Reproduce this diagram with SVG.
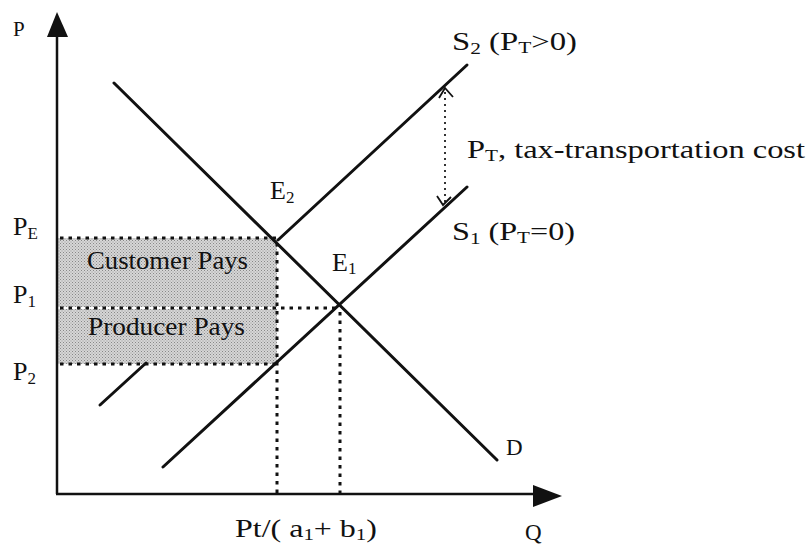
<svg xmlns="http://www.w3.org/2000/svg" width="808" height="548" viewBox="0 0 808 548">
<style>
text{font-family:"Liberation Serif","Times New Roman",serif;fill:#111}
.lbl{font-size:26px}
.sub{font-size:17px}
.curve{stroke:#111;stroke-width:3;fill:none;stroke-linecap:round}
.axis{stroke:#111;stroke-width:2.5;fill:none}
.dash{stroke:#111;stroke-width:3;fill:none;stroke-dasharray:3.5 5}
.dot{stroke:#333;stroke-width:2;fill:none;stroke-dasharray:2 4}
.head{stroke:#111;stroke-width:1.8;fill:none}
</style>
<defs>
<pattern id="stip" width="3" height="3" patternUnits="userSpaceOnUse">
<rect width="3" height="3" fill="#d6d6d6"/>
<rect x="0" y="0" width="1" height="1" fill="#888"/>
<rect x="1.5" y="1.5" width="1" height="1" fill="#999"/>
</pattern>
</defs>
<rect width="808" height="548" fill="#fff"/>

<g id="shaded-area">
<rect x="57" y="238" width="220" height="126" fill="url(#stip)"/>
<line x1="58" y1="308" x2="277" y2="308" stroke="#fff" stroke-width="2"/>
</g>

<g id="connectors">
<g id="axes">
<line class="axis" x1="57" y1="494" x2="57" y2="30"/>
<polygon points="57,12 47,37 68,37" fill="#111"/>
<line class="axis" x1="56" y1="494" x2="540" y2="494"/>
<polygon points="562,496 533,485 533,507" fill="#111"/>
</g>
<g id="curve-D"><line class="curve" x1="114" y1="83" x2="497" y2="460"/></g>
<g id="curve-S2">
<line class="curve" x1="278" y1="240" x2="467" y2="65"/>
<line class="curve" x1="100" y1="405" x2="146" y2="363"/>
</g>
<g id="curve-S1"><line class="curve" x1="163" y1="467" x2="467" y2="187"/></g>
<g id="guides">
<line class="dash" x1="60" y1="238" x2="278" y2="238"/>
<line class="dash" x1="60" y1="308" x2="340" y2="308"/>
<line class="dash" x1="60" y1="364" x2="278" y2="364"/>
<line class="dash" x1="277" y1="243" x2="277" y2="494"/>
<line class="dash" x1="340" y1="312" x2="340" y2="494"/>
</g>
<g id="tax-arrow">
<line class="dot" x1="445" y1="92" x2="445" y2="202"/>
<polyline class="head" points="439,98 445,88 453,97"/>
<polyline class="head" points="437,196 443,205 451,197"/>
</g>
</g>

<g id="label-P"><text x="13" y="36" font-size="21">P</text></g>
<g id="label-Q"><text x="525" y="540" font-size="23">Q</text></g>
<g id="label-D"><text x="506" y="455" font-size="23">D</text></g>
<g id="label-S2"><text class="lbl" x="452" y="50" textLength="125" lengthAdjust="spacingAndGlyphs">S<tspan class="sub" dy="4">2</tspan><tspan dy="-4"> (P</tspan><tspan class="sub" dy="3">T</tspan><tspan dy="-3">&gt;0)</tspan></text></g>
<g id="label-PT"><text class="lbl" x="467" y="158" textLength="338" lengthAdjust="spacingAndGlyphs">P<tspan class="sub" dy="3">T</tspan><tspan dy="-3">, tax-transportation cost</tspan></text></g>
<g id="label-S1"><text class="lbl" x="452" y="240" textLength="123" lengthAdjust="spacingAndGlyphs">S<tspan class="sub" dy="4">1</tspan><tspan dy="-4"> (P</tspan><tspan class="sub" dy="3">T</tspan><tspan dy="-3">=0)</tspan></text></g>
<g id="label-E2"><text class="lbl" x="270" y="199">E<tspan class="sub" dy="4">2</tspan></text></g>
<g id="label-E1"><text class="lbl" x="332" y="271">E<tspan class="sub" dy="3">1</tspan></text></g>
<g id="label-PE"><text class="lbl" x="13" y="235">P<tspan class="sub" dy="4">E</tspan></text></g>
<g id="label-P1"><text class="lbl" x="13" y="303">P<tspan class="sub" dy="4">1</tspan></text></g>
<g id="label-P2"><text class="lbl" x="13" y="380">P<tspan class="sub" dy="4">2</tspan></text></g>
<g id="label-customer"><text x="87" y="269" font-size="25" textLength="161" lengthAdjust="spacingAndGlyphs">Customer Pays</text></g>
<g id="label-producer"><text x="88" y="335" font-size="25" textLength="157" lengthAdjust="spacingAndGlyphs">Producer Pays</text></g>
<g id="label-qty"><text class="lbl" x="235" y="537" textLength="142" lengthAdjust="spacingAndGlyphs">Pt/( a<tspan class="sub" dy="3">1</tspan><tspan dy="-3">+ b</tspan><tspan class="sub" dy="3">1</tspan><tspan dy="-3">)</tspan></text></g>
</svg>
